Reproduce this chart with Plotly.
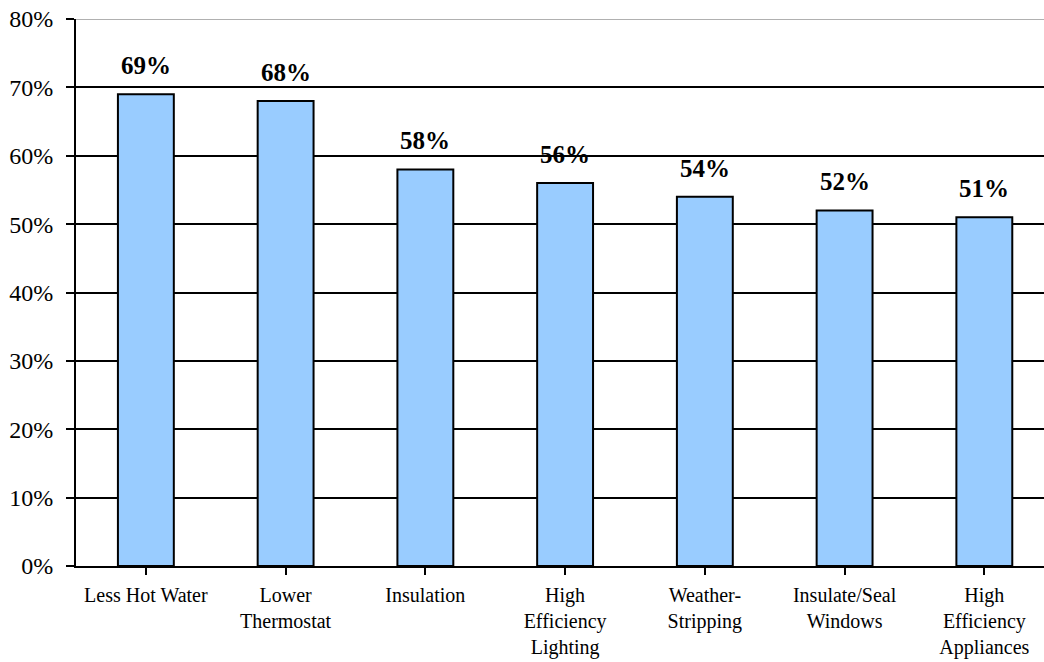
import plotly.graph_objects as go

categories = ["Less Hot Water", "Lower<br>Thermostat", "Insulation",
              "High<br>Efficiency<br>Lighting", "Weather-<br>Stripping",
              "Insulate/Seal<br>Windows", "High<br>Efficiency<br>Appliances"]
values = [69, 68, 58, 56, 54, 52, 51]
y_ticks = [0, 10, 20, 30, 40, 50, 60, 70, 80]
y_tick_labels = [f"{v}%" for v in y_ticks]

FONT = "'Liberation Serif', 'Times New Roman', Times, serif"

fig = go.Figure()
fig.add_trace(go.Bar(
    x=list(range(len(categories))), y=values, width=0.4,
    marker=dict(color="#99CCFF", line=dict(color="black", width=2)),
    hoverinfo="skip",
))

for i, v in enumerate(values):
    fig.add_annotation(x=i, y=v, text=f"<b>{v}%</b>", showarrow=False,
                       yanchor="bottom", yshift=13,
                       font=dict(family=FONT, size=25, color="black"))

fig.add_shape(type="line", xref="paper", yref="y", x0=0, x1=1, y0=80, y1=80,
              line=dict(color="#B0B0B0", width=2), layer="above")

fig.update_layout(
    width=1044, height=662,
    margin=dict(l=76, r=0, t=19, b=96),
    plot_bgcolor="white", paper_bgcolor="white",
    showlegend=False,
    font=dict(family=FONT, color="black"),
    xaxis=dict(
        automargin=False,
        range=[-0.5, 6.427],
        tickmode="array", tickvals=list(range(len(categories))), ticktext=categories,
        tickson="boundaries", ticks="outside", ticklen=7, tickwidth=2, tickcolor="black",
        showline=True, linecolor="black", linewidth=2,
        showgrid=False, zeroline=False,
        tickfont=dict(family=FONT, size=20, color="black"),
        ticklabelstandoff=3,
    ),
    yaxis=dict(
        automargin=False,
        range=[0, 80],
        tickmode="array", tickvals=y_ticks, ticktext=y_tick_labels,
        ticks="outside", ticklen=8, tickwidth=2, tickcolor="black",
        showline=True, linecolor="black", linewidth=2,
        showgrid=True, gridcolor="black", gridwidth=2,
        zeroline=False,
        tickfont=dict(family=FONT, size=24, color="black"),
        ticklabelstandoff=8,
    ),
)

fig.write_html("out.html")
